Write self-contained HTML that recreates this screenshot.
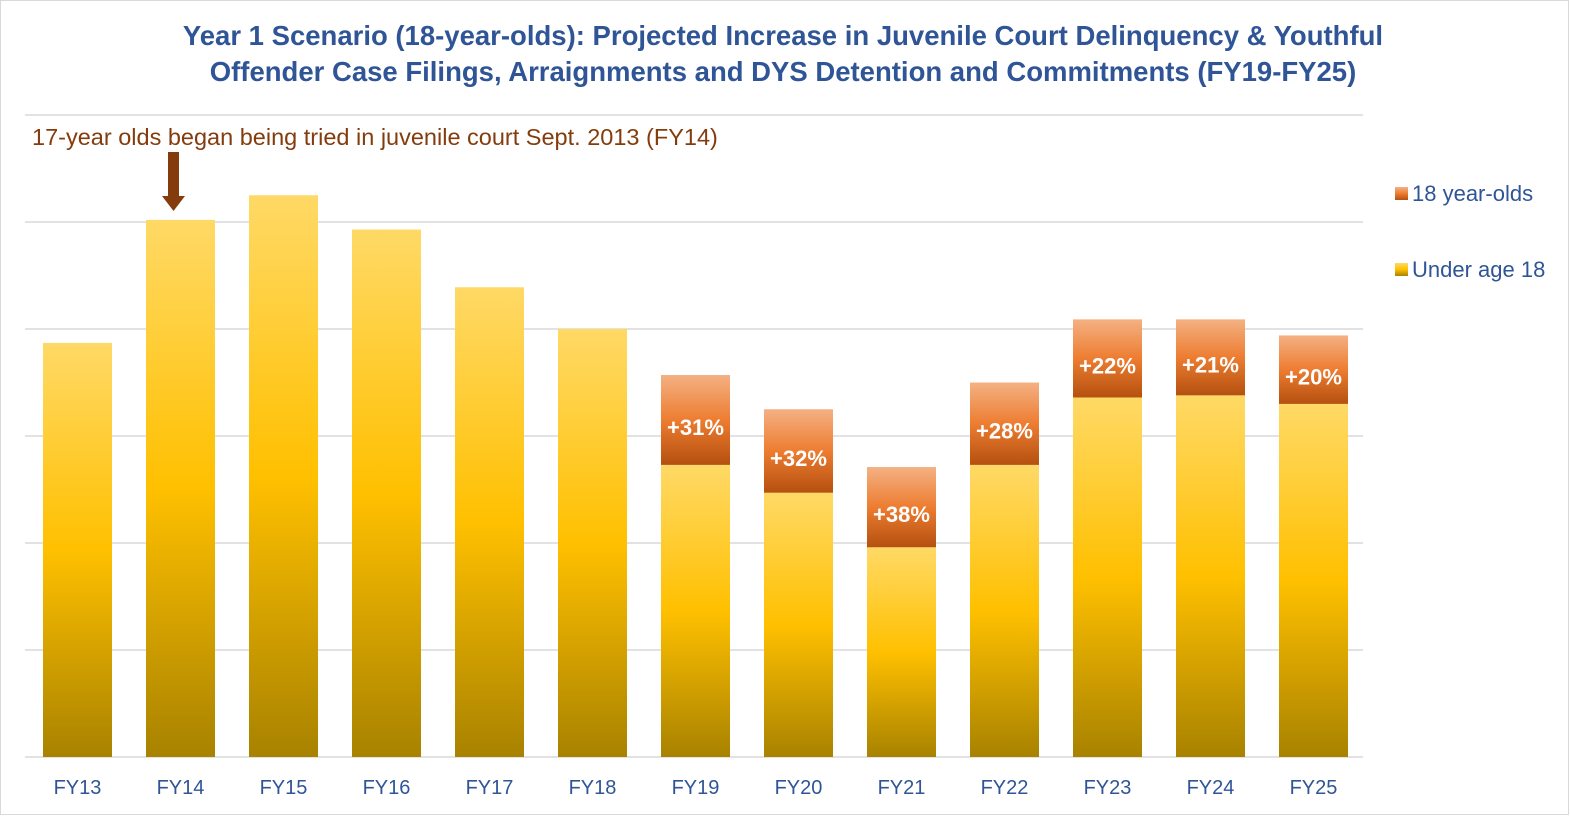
<!DOCTYPE html>
<html><head><meta charset="utf-8"><style>
body{margin:0;background:#fff;}
svg{display:block;font-family:"Liberation Sans",sans-serif;}
</style></head><body>
<svg id="chart" width="1570" height="816">
<defs>
<linearGradient id="gU" x1="0" y1="0" x2="0" y2="1"><stop offset="0" stop-color="#ffd966"/><stop offset="0.5" stop-color="#ffc000"/><stop offset="1" stop-color="#a88200"/></linearGradient>
<linearGradient id="gO" x1="0" y1="0" x2="0" y2="1"><stop offset="0" stop-color="#f4b183"/><stop offset="0.5" stop-color="#ed7d31"/><stop offset="1" stop-color="#b5500f"/></linearGradient>
</defs>
<rect x="0.5" y="0.5" width="1568" height="814" fill="#fff" stroke="#d9d9d9"/>
<text x="783" y="45" text-anchor="middle" font-size="27.5" font-weight="bold" fill="#2f5597">Year 1 Scenario (18-year-olds): Projected Increase in Juvenile Court Delinquency &amp; Youthful</text>
<text x="783" y="81" text-anchor="middle" font-size="27.5" font-weight="bold" fill="#2f5597">Offender Case Filings, Arraignments and DYS Detention and Commitments (FY19-FY25)</text>
<g id="grid"></g>
<g id="bars"></g>
<text x="32" y="145" font-size="23.5" fill="#843c0c">17-year olds began being tried in juvenile court Sept. 2013 (FY14)</text>
<g><rect x="168" y="152" width="11" height="45" fill="#843c0c"/><polygon points="162,196 185,196 173.5,211" fill="#843c0c"/></g>
<g>
<rect x="1395" y="187" width="13" height="13" fill="url(#gO)"/>
<text x="1412" y="201" font-size="22" fill="#2f5597">18 year-olds</text>
<rect x="1395" y="263" width="13" height="13" fill="url(#gU)"/>
<text x="1412" y="277" font-size="22" fill="#2f5597">Under age 18</text>
</g>
</svg>
<script>
const categories=["FY13","FY14","FY15","FY16","FY17","FY18","FY19","FY20","FY21","FY22","FY23","FY24","FY25"];
const under18=[3.87,5.02,5.25,4.93,4.39,4.0,2.73,2.47,1.96,2.73,3.36,3.38,3.30];
const age18=[0,0,0,0,0,0,0.84,0.78,0.75,0.77,0.73,0.71,0.64];
const pctLabels=["","","","","","","+31%","+32%","+38%","+28%","+22%","+21%","+20%"];
const gridTicks=[0,1,2,3,4,5,6];
const NS="http://www.w3.org/2000/svg";
const base=757,unit=107,x0=43,step=103,bw=69;
const y=v=>base-v*unit;
const xs=i=>x0+i*step;
const grid=document.getElementById('grid'),bars=document.getElementById('bars');
function mk(t,a,p){const e=document.createElementNS(NS,t);for(const k in a)e.setAttribute(k,a[k]);p.appendChild(e);return e;}
gridTicks.forEach(t=>{const l=mk('line',{x1:25,x2:1363,y1:y(t),y2:y(t),stroke:'#d9d9d9','stroke-width':1.5},grid);

});
categories.forEach((c,i)=>{
 const r=mk('rect',{x:xs(i),y:y(under18[i]),width:bw,height:under18[i]*unit,fill:'url(#gU)'},bars);
 
 
 if(age18[i]>0){
  const o=mk('rect',{x:xs(i),y:y(under18[i]+age18[i]),width:bw,height:age18[i]*unit,fill:'url(#gO)'},bars);
  
  
  const t=mk('text',{x:xs(i)+bw/2,y:y(under18[i]+age18[i]/2)+15,'text-anchor':'middle','font-size':22,'font-weight':'bold',fill:'#fff'},bars);
  t.textContent=pctLabels[i];
  
  
 }
 const l=mk('text',{x:xs(i)+bw/2,y:794,'text-anchor':'middle','font-size':20,fill:'#2f5597'},bars);
 l.textContent=c;
 
 
});
</script>
</body></html>
